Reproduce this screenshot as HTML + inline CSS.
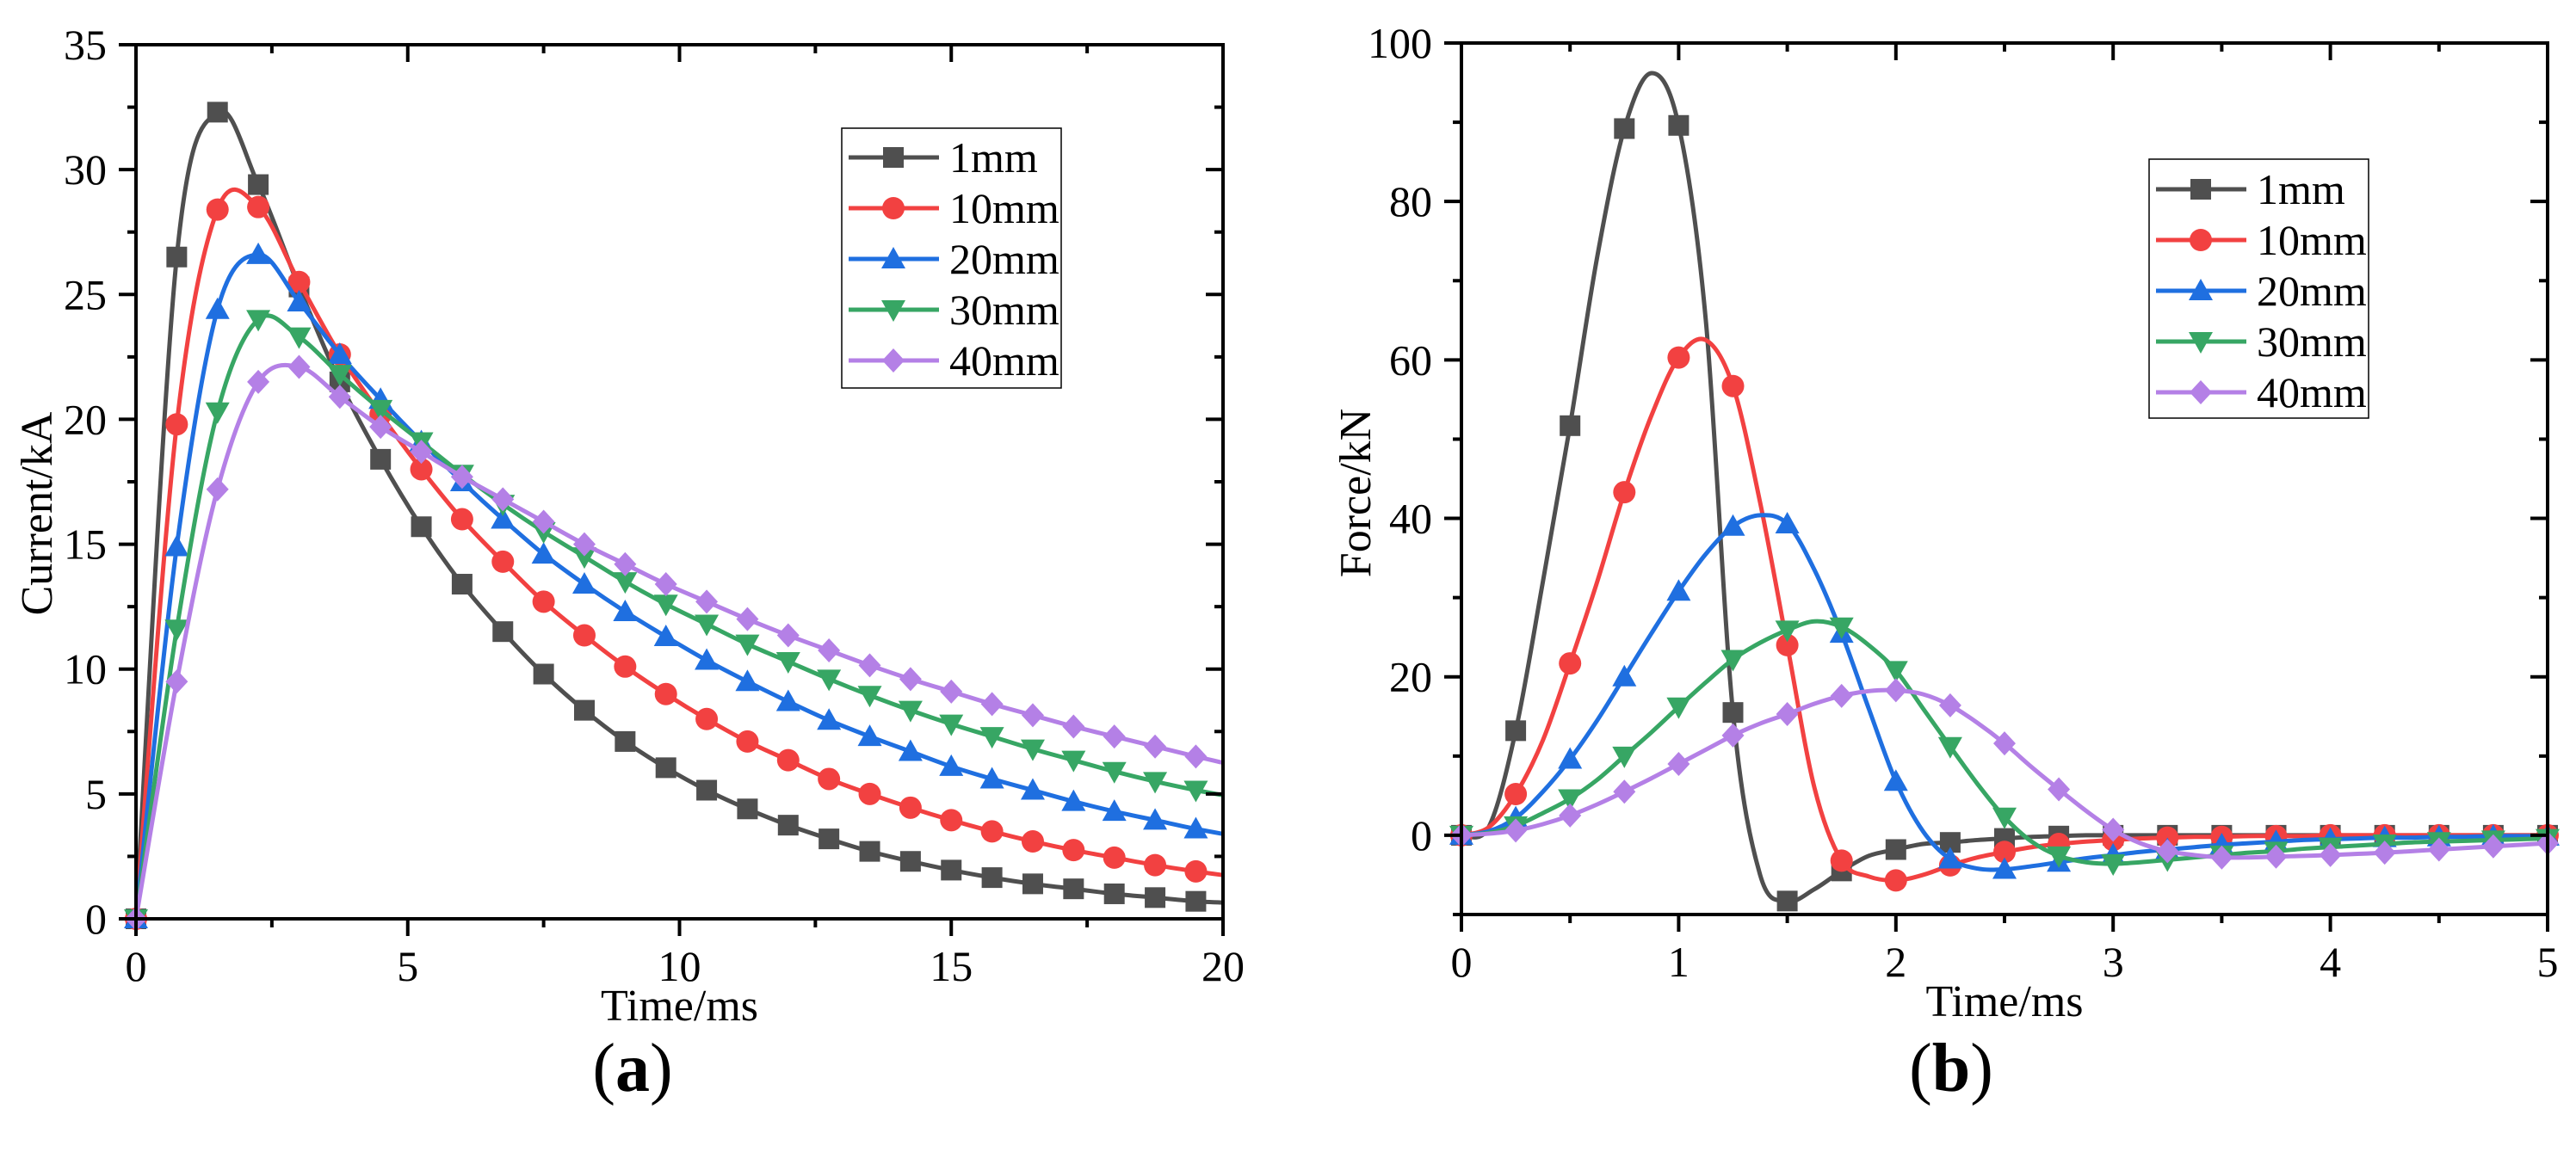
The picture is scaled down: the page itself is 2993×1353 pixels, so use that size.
<!DOCTYPE html>
<html><head><meta charset="utf-8"><style>
html,body{margin:0;padding:0;background:#fff}
svg{display:block;font-family:"Liberation Serif",serif}
svg text{font-family:"Liberation Serif",serif}
</style></head><body>
<svg id="fig" width="2993" height="1353" viewBox="0 0 2993 1353" xmlns="http://www.w3.org/2000/svg" font-family="Liberation Serif, serif"></svg>
<script>
// ---- Chart (a): Current vs Time ----
const seriesNames = ["1mm","10mm","20mm","30mm","40mm"];
const seriesColors = ["#4f4f4f","#f24141","#1f6fe0","#37a664","#b480e6"];
const currentTime = [0,0.75,1.5,2.25,3,3.75,4.5,5.25,6,6.75,7.5,8.25,9,9.75,10.5,11.25,12,12.75,13.5,14.25,15,15.75,16.5,17.25,18,18.75,19.5,20];
const current1mm = [0,26.5,32.3,29.4,25.3,21.5,18.4,15.7,13.4,11.5,9.8,8.35,7.1,6.05,5.15,4.4,3.75,3.2,2.7,2.3,1.95,1.65,1.4,1.2,1.0,0.85,0.7,0.65];
const current10mm = [0,19.8,28.4,28.5,25.5,22.6,20.2,18.0,16.0,14.3,12.7,11.35,10.1,9.0,8.0,7.1,6.35,5.6,5.0,4.45,3.95,3.5,3.1,2.75,2.45,2.15,1.9,1.75];
const current20mm = [0,14.9,24.4,26.6,24.7,22.6,20.8,19.1,17.5,16.0,14.6,13.4,12.3,11.3,10.35,9.5,8.7,7.95,7.3,6.7,6.1,5.6,5.15,4.7,4.3,3.95,3.6,3.4];
const current30mm = [0,11.6,20.3,24.0,23.3,21.8,20.4,19.1,17.8,16.6,15.5,14.5,13.5,12.6,11.8,11.0,10.3,9.6,8.95,8.35,7.8,7.3,6.8,6.35,5.9,5.5,5.15,4.95];
const current40mm = [0,9.5,17.2,21.5,22.1,20.9,19.7,18.7,17.7,16.8,15.9,15.0,14.2,13.4,12.7,12.0,11.35,10.75,10.15,9.6,9.1,8.6,8.15,7.7,7.3,6.9,6.5,6.25];
const currentXTicks = [0,5,10,15,20];
const currentYTicks = [0,5,10,15,20,25,30,35];

// ---- Chart (b): Force vs Time ----
const forceTime = [0,0.125,0.25,0.375,0.5,0.625,0.75,0.875,1,1.125,1.25,1.375,1.5,1.625,1.75,1.875,2,2.125,2.25,2.375,2.5,2.625,2.75,2.875,3,3.125,3.25,3.375,3.5,3.625,3.75,3.875,4,4.125,4.25,4.375,4.5,4.625,4.75,4.875,5];
const force1mm = [0,1,13.2,32,51.7,73,89.2,96.2,89.6,65,15.5,-5,-8.3,-6.8,-4.5,-2.6,-1.8,-1.1,-0.9,-0.6,-0.4,-0.2,-0.1,0,0,0,0,0,0,0,0,0,0,0,0,0,0,0,0,0,0];
const force10mm = [0,1,5.2,12,21.7,32,43.3,53,60.3,62.5,56.7,42,24,6,-3.2,-5.2,-5.7,-5,-3.8,-2.8,-2.1,-1.5,-1.1,-0.8,-0.6,-0.4,-0.3,-0.2,-0.2,-0.1,-0.1,-0.1,0,0,0,0,0,0,0,0,0];
const force20mm = [0,0.5,2.2,5.5,9.6,14.5,20,25.5,30.8,35.5,39,40.4,39.3,33.5,25.5,16,6.8,0.5,-3,-4.2,-4.3,-3.9,-3.4,-2.9,-2.5,-2.1,-1.8,-1.5,-1.2,-1.0,-0.8,-0.6,-0.5,-0.4,-0.3,-0.3,-0.2,-0.2,-0.1,-0.1,-0.1];
const force30mm = [0,0.3,1.2,2.8,4.6,7,10,13,16.2,19.3,22.2,24.3,25.9,27,26.3,24,20.8,16,11.2,6.5,2.3,-0.8,-2.6,-3.4,-3.6,-3.4,-3.1,-2.8,-2.5,-2.2,-2.0,-1.7,-1.5,-1.3,-1.1,-0.9,-0.8,-0.7,-0.6,-0.5,-0.4];
const force40mm = [0,0.2,0.6,1.4,2.5,3.9,5.5,7.2,9.0,10.8,12.6,14.1,15.3,16.6,17.6,18.2,18.3,17.8,16.4,14.2,11.6,8.6,5.8,3.1,0.7,-1.0,-2.0,-2.5,-2.8,-2.8,-2.7,-2.6,-2.5,-2.35,-2.2,-2.0,-1.8,-1.6,-1.4,-1.2,-1.0];
const forceXTicks = [0,1,2,3,4,5];
const forceYTicks = [0,20,40,60,80,100];

const NS = "http://www.w3.org/2000/svg";
const FONT = '"Liberation Serif", serif';
const fig = document.getElementById('fig');
function mk(tag, attrs, parent){
  const e = document.createElementNS(NS, tag);
  for (const k in attrs) e.setAttribute(k, attrs[k]);
  if (tag === 'text') e.style.fontFamily = FONT;
  (parent||fig).appendChild(e);
  return e;
}
function smoothPath(pts){
  let d = "M" + pts[0][0] + "," + pts[0][1];
  for (let i=0;i<pts.length-1;i++){
    const p0 = pts[Math.max(0,i-1)], p1 = pts[i], p2 = pts[i+1], p3 = pts[Math.min(pts.length-1,i+2)];
    const c1x = p1[0]+(p2[0]-p0[0])/6, c1y = p1[1]+(p2[1]-p0[1])/6;
    const c2x = p2[0]-(p3[0]-p1[0])/6, c2y = p2[1]-(p3[1]-p1[1])/6;
    d += " C"+c1x+","+c1y+" "+c2x+","+c2y+" "+p2[0]+","+p2[1];
  }
  return d;
}
function marker(g, idx, x, y, color){
  let m;
  if (idx===0) m = mk('rect',{x:x-12,y:y-12,width:24,height:24,fill:color},g);
  else if (idx===1) m = mk('circle',{cx:x,cy:y,r:13,fill:color},g);
  else if (idx===2) m = mk('polygon',{points:(x)+","+(y-14)+" "+(x-14)+","+(y+11)+" "+(x+14)+","+(y+11),fill:color},g);
  else if (idx===3) m = mk('polygon',{points:(x)+","+(y+14)+" "+(x-14)+","+(y-11)+" "+(x+14)+","+(y-11),fill:color},g);
  else m = mk('polygon',{points:x+","+(y-14)+" "+(x+13)+","+y+" "+x+","+(y+14)+" "+(x-13)+","+y,fill:color},g);
  return m;
}

function chart(cfg){
  const g = mk('g',{});
  
  
  const {L,R,T,B,xmin,xmax,ymin,ymax} = cfg;
  const sx = v => L + (v-xmin)/(xmax-xmin)*(R-L);
  const sy = v => B - (v-ymin)/(ymax-ymin)*(B-T);
  cfg.series.forEach((ys, si) => {
    const sg = mk('g',{},g);
    
    
    const pts = cfg.x.map((xv,i)=>[sx(xv), sy(ys[i])]);
    const p = mk('path',{d:smoothPath(pts),fill:'none',stroke:seriesColors[si],'stroke-width':5,'stroke-linejoin':'round'},sg);
    
    
    cfg.x.forEach((xv,i)=>{
      if (!cfg.markAt(xv)) return;
      const m = marker(sg, si, sx(xv), sy(ys[i]), seriesColors[si]);
      
      
    });
  });
  const fr = mk('rect',{x:L,y:T,width:R-L,height:B-T,fill:'none',stroke:'#000','stroke-width':4},g);
  
  
  const xt = cfg.xTicks;
  const xstep = xt[1]-xt[0];
  for (let v=xmin; v<=xmax+1e-9; v+=xstep/2){
    const major = Math.abs(((v-xmin)/xstep) - Math.round((v-xmin)/xstep))<1e-6;
    const len = major?20:10, X=sx(v);
    mk('line',{x1:X,y1:B,x2:X,y2:B+len,stroke:'#000','stroke-width':4},g);
    mk('line',{x1:X,y1:T,x2:X,y2:T+len,stroke:'#000','stroke-width':4},g);
  }
  xt.forEach(v=>{
    const t = mk('text',{x:sx(v),y:B+72,'font-size':50,'text-anchor':'middle'},g);
    t.textContent = v;
    
    
  });
  const yt = cfg.yTicks;
  const ystep = yt[1]-yt[0];
  for (let v=ymin; v<=ymax+1e-9; v+=ystep/2){
    const major = Math.abs(((v-yt[0])/ystep) - Math.round((v-yt[0])/ystep))<1e-6;
    const len = major?20:10, Y=sy(v);
    mk('line',{x1:L,y1:Y,x2:L-len,y2:Y,stroke:'#000','stroke-width':4},g);
    mk('line',{x1:R,y1:Y,x2:R-len,y2:Y,stroke:'#000','stroke-width':4},g);
  }
  yt.forEach(v=>{
    const t = mk('text',{x:L-34,y:sy(v)+17,'font-size':50,'text-anchor':'end'},g);
    t.textContent = v;
    
    
  });
  const xtt = mk('text',{x:(L+R)/2,y:B+118,'font-size':52,'text-anchor':'middle'},g);
  xtt.textContent = 'Time/ms';
  
  
  const ytt = mk('text',{x:cfg.ytx,y:cfg.yty,'font-size':52,'text-anchor':'middle',transform:'rotate(-90 '+cfg.ytx+' '+cfg.yty+')'},g);
  ytt.textContent = cfg.ytitle;
  
  
  const lg = mk('g',{},g);
  
  
  mk('rect',{x:cfg.lx,y:cfg.ly,width:255,height:cfg.lh,fill:'#fff',stroke:'#000','stroke-width':1.5},lg);
  seriesNames.forEach((n,i)=>{
    const eg = mk('g',{},lg);
    
    
    const yy = cfg.ly + cfg.l0 + i*cfg.ld;
    mk('line',{x1:cfg.lx+8,y1:yy,x2:cfg.lx+113,y2:yy,stroke:seriesColors[i],'stroke-width':5},eg);
    marker(eg,i,cfg.lx+60,yy,seriesColors[i]);
    const t = mk('text',{x:cfg.lx+125,y:yy+17,'font-size':50},eg);
    t.textContent = n;
  });
  const pl = mk('text',{x:cfg.px,y:1268,'font-size':80,'text-anchor':'middle'},g);
  pl.appendChild(document.createTextNode('('));
  const b = mk('tspan',{'font-weight':'bold'},pl);
  b.textContent = cfg.panel;
  pl.appendChild(document.createTextNode(')'));
  
  
}

chart({name:'current-chart',L:158,R:1421,T:52,B:1068,xmin:0,xmax:20,ymin:0,ymax:35,
  x:currentTime, series:[current1mm,current10mm,current20mm,current30mm,current40mm],
  markAt: v=> v<19.9, xTicks:currentXTicks, yTicks:currentYTicks,
  ytitle:'Current/kA', ytx:60, yty:597,
  lx:978, ly:149, lh:302, l0:34, ld:59, px:735, panel:'a'});

chart({name:'force-chart',L:1698,R:2960,T:50,B:1063,xmin:0,xmax:5,ymin:-10,ymax:100,
  x:forceTime, series:[force1mm,force10mm,force20mm,force30mm,force40mm],
  markAt: v=> Math.abs(v*4-Math.round(v*4))<1e-6, xTicks:forceXTicks, yTicks:forceYTicks,
  ytitle:'Force/kN', ytx:1592, yty:573,
  lx:2497, ly:185, lh:301, l0:35, ld:59, px:2267, panel:'b'});
</script>
</body></html>
